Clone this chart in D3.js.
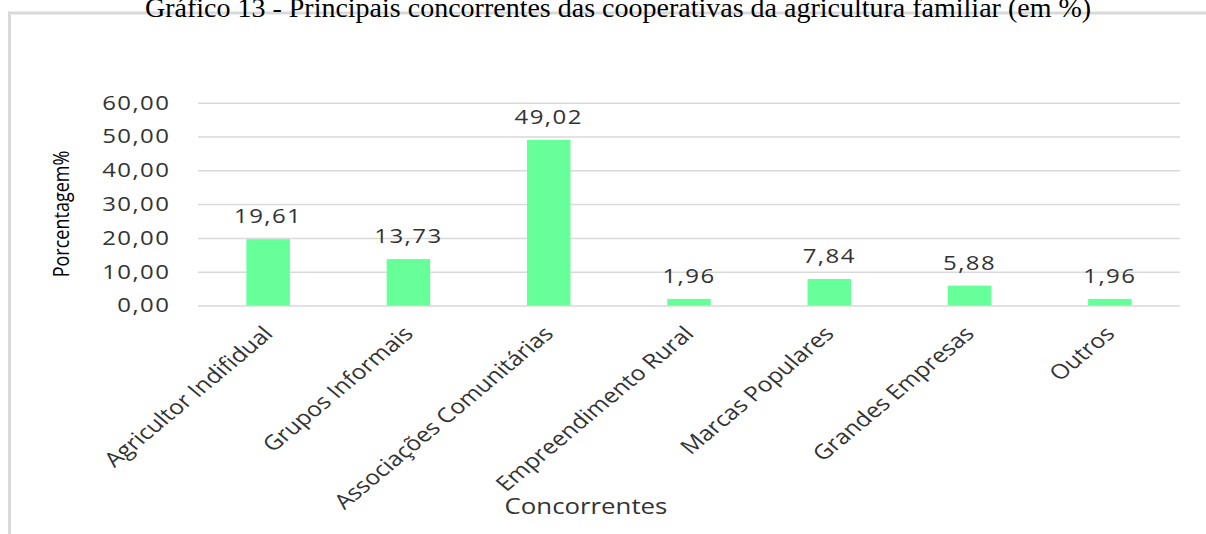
<!DOCTYPE html>
<html>
<head>
<meta charset="utf-8">
<script src="https://cdn.jsdelivr.net/npm/d3@7"></script>
<style>
  body { margin: 0; background: #fff; }
  svg { display: block; }
</style>
</head>
<body>
<div id="chart"></div>
<script>
const title = "Gráfico 13 - Principais concorrentes das cooperativas da agricultura familiar (em %)";
const categories = ["Agricultor Indifidual", "Grupos Informais", "Associações Comunitárias",
  "Empreendimento Rural", "Marcas Populares", "Grandes Empresas", "Outros"];
const values = [19.61, 13.73, 49.02, 1.96, 7.84, 5.88, 1.96];
const yTicks = [0, 10, 20, 30, 40, 50, 60];
const yLabel = "Porcentagem%";
const xLabel = "Concorrentes";

const width = 1206,
  height = 534;

// the source picture is stretched sideways, so the chart group is scaled in x
const sx = 1.2;

const br = d3.formatLocale({decimal: ",", thousands: ".", grouping: [3], currency: ["R$", ""]});
const fmt = br.format(".2f");

const svg = d3.select("#chart")
  .append("svg")
  .attr("width", width)
  .attr("height", height)
  .attr("viewBox", [0, 0, width, height]);

// frame round the chart
svg.append("rect")
  .attr("x", 9.5)
  .attr("y", 13)
  .attr("width", width + 20)
  .attr("height", height + 20)
  .attr("fill", "none")
  .attr("stroke", "#d9d9d9")
  .attr("stroke-width", 3);

// title sits half above the top edge, as in the source
svg.append("text")
  .attr("x", 618)
  .attr("y", 17)
  .attr("text-anchor", "middle")
  .style("font-family", "'Liberation Serif', 'Times New Roman', serif")
  .style("font-size", "28px")
  .attr("fill", "#000")
  .text(title);

const g = svg.append("g")
  .attr("transform", `scale(${sx},1)`);

const x = d3.scaleBand()
  .domain(categories)
  .range([198 / sx, 1180 / sx])
  .paddingInner(0.69)
  .paddingOuter(0.345);

const y = d3.scaleLinear()
  .domain([0, 60])
  .range([305.5, 102.7]);

const font = "'Open Sans', sans-serif";
const ink = "#333";

// y axis with gridlines
const yAxis = g.append("g")
  .attr("transform", `translate(${x.range()[0]},0)`)
  .call(d3.axisLeft(y)
    .tickValues(yTicks)
    .tickFormat(fmt)
    .tickSize(-(x.range()[1] - x.range()[0]))
    .tickPadding(23));
yAxis.select(".domain").remove();
yAxis.selectAll("line")
  .attr("stroke", "#d9d9d9")
  .attr("stroke-width", 1.5);
yAxis.selectAll("text")
  .style("font-family", font)
  .style("font-size", "20px")
  .style("letter-spacing", "1.2px")
  .attr("fill", ink);

// bars
g.append("g")
  .selectAll("rect")
  .data(values)
  .join("rect")
  .attr("x", (d, i) => x(categories[i]))
  .attr("width", x.bandwidth())
  .attr("y", d => y(d))
  .attr("height", d => y(0) - y(d))
  .attr("fill", "#66ff99");

// value labels
g.append("g")
  .selectAll("text")
  .data(values)
  .join("text")
  .attr("x", (d, i) => x(categories[i]) + x.bandwidth() / 2)
  .attr("y", d => y(d) - 16)
  .attr("text-anchor", "middle")
  .style("font-family", font)
  .style("font-size", "20px")
  .style("letter-spacing", "1.2px")
  .attr("fill", ink)
  .text(d => fmt(d));

// category labels
g.append("g")
  .selectAll("text")
  .data(categories)
  .join("text")
  .attr("transform", d => `translate(${x(d) + x.bandwidth() / 2},330) rotate(-45)`)
  .attr("text-anchor", "end")
  .attr("dy", "0.35em")
  .style("font-family", font)
  .style("font-size", "20.5px")
  .attr("fill", ink)
  .text(d => d);

g.append("text")
  .attr("x", 586 / sx)
  .attr("y", 514)
  .attr("text-anchor", "middle")
  .style("font-family", font)
  .style("font-size", "21.5px")
  .attr("fill", ink)
  .text(xLabel);

g.append("text")
  .attr("transform", `translate(${69 / sx},214) rotate(-90)`)
  .attr("text-anchor", "middle")
  .style("font-family", font)
  .style("font-size", "18px")
  .attr("fill", "#000")
  .text(yLabel);
</script>
</body>
</html>
